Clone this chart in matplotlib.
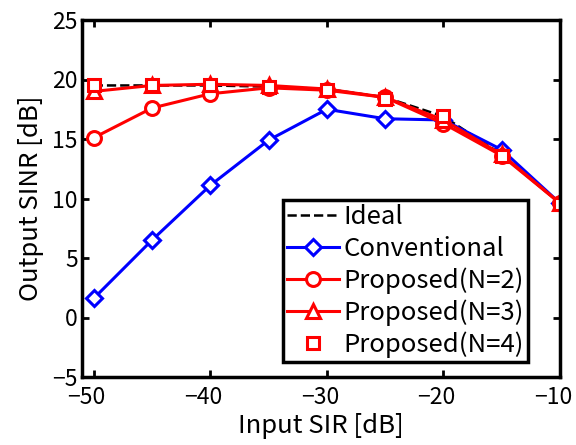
import matplotlib
matplotlib.use("Agg")
import matplotlib.pyplot as plt
import matplotlib.transforms as mtransforms

plt.rcParams['font.family'] = ['Noto Sans CJK JP', 'DejaVu Sans']

sir = [-50, -45, -40, -35, -30, -25, -20, -15, -10]
ideal = [19.5, 19.5, 19.5, 19.4, 19.2, 18.5, 16.9, 13.7, 9.6]
conventional = [1.6, 6.5, 11.1, 14.9, 17.5, 16.7, 16.6, 14.1, 9.6]
prop_n2 = [15.1, 17.6, 18.8, 19.3, 19.1, 18.5, 16.3, 13.6, 9.6]
prop_n3 = [19.0, 19.5, 19.6, 19.5, 19.2, 18.5, 16.6, 13.7, 9.6]
prop_n4 = [19.5, 19.5, 19.5, 19.4, 19.1, 18.4, 16.9, 13.6, 9.5]

fig = plt.figure(figsize=(5.76, 4.45), dpi=100)
ax = fig.add_axes([82 / 576, 68 / 445, 478 / 576, 357 / 445])

ax.plot(sir, ideal, 'k--', lw=1.8, label='Ideal')
ax.plot(sir, conventional, color='blue', lw=2.2, marker='D', ms=8,
        mfc='white', mew=2.2, label='Conventional')
ax.plot(sir, prop_n2, color='red', lw=2.2, marker='o', ms=10,
        mfc='white', mew=2.2, label='Proposed(N=2)')
ax.plot(sir, prop_n3, color='red', lw=2.2, marker='^', ms=10,
        mfc='white', mew=2.2, label='Proposed(N=3)')
ax.plot(sir, prop_n4, color='red', lw=0, marker='s', ms=9,
        mfc='white', mew=2.2, label='Proposed(N=4)')

ax.set_xlim(-51, -10)
ax.set_ylim(-5, 25)
ax.set_xticks([-50, -40, -30, -20, -10])
ax.set_yticks([-5, 0, 5, 10, 15, 20, 25])
ax.set_xlabel('Input SIR [dB]', fontsize=18.5, labelpad=3)
ax.set_ylabel('Output SINR [dB]', fontsize=18.5, labelpad=6)
ax.tick_params(direction='in', top=True, right=True, labelsize=16.5,
               width=2, length=5, pad=3)
for s in ax.spines.values():
    s.set_linewidth(2.5)

# x tick labels sit a little left of and below their ticks, as in the original
shift = mtransforms.ScaledTranslation(-7 / 100, -5 / 100, fig.dpi_scale_trans)
for lbl in ax.get_xticklabels():
    lbl.set_transform(lbl.get_transform() + shift)

leg = ax.legend(loc='lower right', bbox_to_anchor=(0.933, 0.042), fontsize=18.5,
                fancybox=False, framealpha=1, edgecolor='black',
                handlelength=2.0, handletextpad=0.2, borderpad=0.15,
                labelspacing=0.22, borderaxespad=0)
leg.get_frame().set_linewidth(2.5)

fig.savefig('out.png', dpi=100)
